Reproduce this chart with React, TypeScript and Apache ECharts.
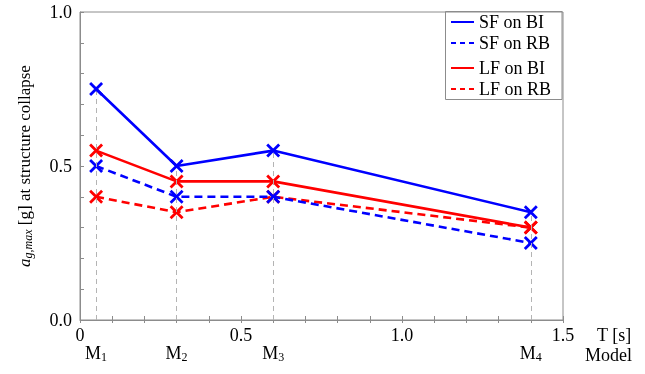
import React, { useEffect, useRef } from "react";
import * as echarts from "echarts";

const periods = [0.05, 0.3, 0.6, 1.4];
const modelLabels = ["1", "2", "3", "4"];
const sfOnBI = [0.75, 0.5, 0.55, 0.35];
const sfOnRB = [0.5, 0.4, 0.4, 0.25];
const lfOnBI = [0.55, 0.45, 0.45, 0.3];
const lfOnRB = [0.4, 0.35, 0.4, 0.3];

const FONT = "'Liberation Serif', 'Times New Roman', serif";
const FS = 18;
const BLUE = "#0000ff";
const RED = "#ff0000";
const AXIS = "#8c8c8c";
const CROSS = "path://M0,0L10,10M10,0L0,10";

function pairs(vals: number[]) {
  return periods.map((t, i) => [t, vals[i]]);
}

export default function App() {
  const ref = useRef<HTMLDivElement>(null);
  useEffect(() => {
    const chart = echarts.init(ref.current!, null, { renderer: "svg" });
    const tops = periods.map((_, i) => Math.max(sfOnBI[i], sfOnRB[i], lfOnBI[i], lfOnRB[i]));
    const mk = (name: string, vals: number[], color: string, dashed: boolean, z: number) => ({
      name,
      type: "line",
      xAxisIndex: 0,
      yAxisIndex: 0,
      data: pairs(vals),
      z,
      symbol: CROSS,
      symbolSize: 12,
      lineStyle: { color, width: 2.6, type: dashed ? [8, 5] : "solid" },
      itemStyle: { color, borderColor: color, borderWidth: 2.8 },
    });
    const legendBase = {
      orient: "vertical",
      left: 450,
      padding: 0,
      itemWidth: 23,
      itemHeight: 14,
      itemGap: 3,
      itemTextGap: 5,
      itemStyle: { opacity: 0 },
      textStyle: { fontSize: FS, color: "#000", fontFamily: FONT },
      selectedMode: false,
    };
    const dashedIcon = { type: [5, 4] };
    chart.setOption({
      animation: false,
      textStyle: { fontFamily: FONT },
      grid: { left: 80, right: 82, top: 12, bottom: 54, show: true, borderColor: AXIS, borderWidth: 1, containLabel: false },
      xAxis: [
        {
          type: "value", min: 0, max: 1.5, interval: 0.1, position: "bottom",
          axisLine: { lineStyle: { color: AXIS } },
          axisTick: { inside: true, length: 4, lineStyle: { color: AXIS } },
          splitLine: { show: false },
          axisLabel: {
            fontSize: FS, color: "#000", margin: 6, fontFamily: FONT, showMaxLabel: true,
            formatter: (v: number) => {
              const r = Math.round(v * 10);
              if (r % 5 !== 0) return "";
              return r === 0 ? "0" : (r / 10).toFixed(1);
            },
          },
        },
        {
          type: "value", min: 0, max: 1.5, interval: 0.1, position: "bottom",
          axisLine: { show: false },
          axisTick: { inside: false, length: 3, lineStyle: { color: AXIS } },
          axisLabel: { show: false },
          splitLine: { show: false },
        },
        {
          type: "value", min: 0, max: 1.5, position: "bottom", offset: 17,
          axisLine: { show: false },
          axisTick: { show: false },
          splitLine: { show: false },
          axisLabel: {
            customValues: periods,
            margin: 6,
            formatter: (v: number) => {
              const i = periods.findIndex((p) => Math.abs(p - v) < 1e-6);
              return i < 0 ? "" : "M{sub|" + modelLabels[i] + "}";
            },
            fontSize: FS, color: "#000", fontFamily: FONT,
            rich: { sub: { fontSize: 12, color: "#000", fontFamily: FONT, padding: [8, 0, 0, 0] } },
          },
        },
      ],
      yAxis: [
        {
          type: "value", min: 0, max: 1, interval: 0.1,
          axisLine: { show: true, lineStyle: { color: AXIS } },
          axisTick: { show: true, inside: true, length: 4, lineStyle: { color: AXIS } },
          splitLine: { show: false },
          axisLabel: {
            fontSize: FS, color: "#000", margin: 8, fontFamily: FONT, showMaxLabel: true,
            formatter: (v: number) => {
              const r = Math.round(v * 10);
              return r % 5 === 0 ? (r / 10).toFixed(1) : "";
            },
          },
          name: "{i|a}{s|g,max} [g] at structure collapse",
          nameLocation: "middle",
          nameGap: 46,
          nameRotate: 90,
          nameTextStyle: {
            fontSize: 17, color: "#000", fontFamily: FONT,
            rich: {
              i: { fontSize: 17, fontStyle: "italic", fontFamily: FONT, color: "#000" },
              s: { fontSize: 12, fontStyle: "italic", fontFamily: FONT, color: "#000", padding: [8, 0, 0, 0] },
            },
          },
        },
        {
          type: "value", min: 0, max: 1, interval: 0.1,
          axisLine: { show: false },
          axisTick: { show: true, inside: false, length: 3, lineStyle: { color: AXIS } },
          axisLabel: { show: false },
          splitLine: { show: false },
        },
      ],
      legend: [
        { ...legendBase, top: 13, data: [{ name: "SF on BI" }, { name: "SF on RB", lineStyle: dashedIcon }] },
        { ...legendBase, top: 59, data: [{ name: "LF on BI" }, { name: "LF on RB", lineStyle: dashedIcon }] },
      ],
      graphic: [
        { type: "rect", shape: { x: 445.5, y: 11.5, width: 116.5, height: 88 }, style: { fill: "none", stroke: AXIS, lineWidth: 1 }, z: 0 },
        { type: "text", x: 597, y: 335, style: { text: "T [s]", fontSize: FS, fontFamily: FONT, fill: "#000", verticalAlign: "middle" } },
        { type: "text", x: 585, y: 355, style: { text: "Model", fontSize: FS, fontFamily: FONT, fill: "#000", verticalAlign: "middle" } },
      ],
      series: [
        {
          type: "line", data: [], xAxisIndex: 0, yAxisIndex: 0, z: 1, silent: true,
          markLine: {
            silent: true, symbol: ["none", "none"], label: { show: false },
            lineStyle: { color: "#b4b4b4", width: 1, type: [5, 4] },
            data: periods.map((t, i) => [{ coord: [t, 0] }, { coord: [t, tops[i]] }]),
          },
        },
        mk("LF on RB", lfOnRB, RED, true, 2),
        mk("LF on BI", lfOnBI, RED, false, 3),
        mk("SF on RB", sfOnRB, BLUE, true, 4),
        mk("SF on BI", sfOnBI, BLUE, false, 5),
      ],
    });
    return () => chart.dispose();
  }, []);
  return <div ref={ref} style={{ position: "fixed", left: 0, top: 0, width: 645, height: 374 }} />;
}
